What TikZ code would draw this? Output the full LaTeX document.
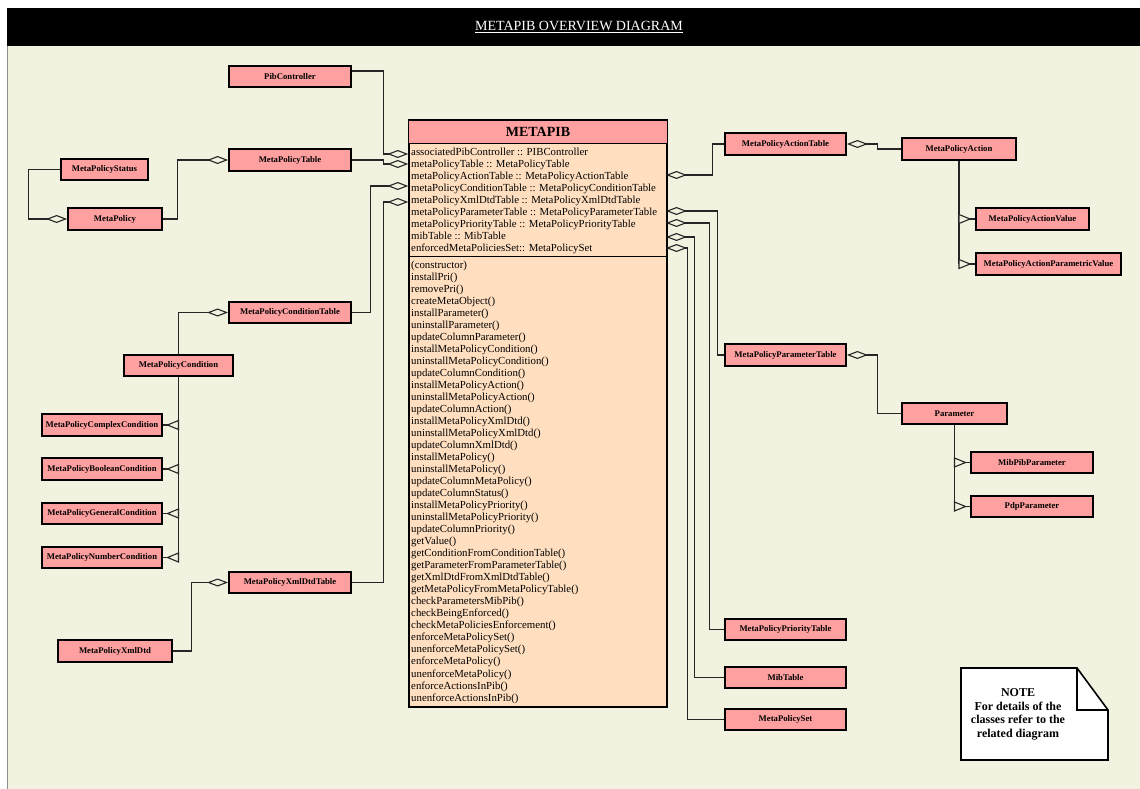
\documentclass[tikz,border=0pt]{standalone}
\usepackage{fontspec}
\setmainfont{Liberation Serif}
\usetikzlibrary{arrows.meta,calc}
\definecolor{bgc}{HTML}{F1F2DF}
\definecolor{pinkc}{HTML}{FFA0A0}
\definecolor{peachc}{HTML}{FFDFC0}
\newcommand\mtxtfont{\fontsize{10.8}{12}\selectfont}
\begin{document}
\begin{tikzpicture}[x=1pt,y=-1pt,
  cls/.style={draw=black,line width=1.8pt,fill=pinkc,inner sep=0pt,minimum height=21.5pt,minimum width=122pt,font=\bfseries\fontsize{8.7}{10}\selectfont},
  conn/.style={line width=1.1pt,draw=black!85},
  agg/.style={conn,-{Diamond[open,length=21pt,width=8pt]}},
  genR/.pic={\draw[conn,fill=bgc] (0,-4.5) -- (11,0) -- (0,4.5) -- cycle;},
  genL/.pic={\draw[conn,fill=bgc] (0,-4.5) -- (-11,0) -- (0,4.5) -- cycle;},
  mline/.style={anchor=base west,inner sep=0pt,font=\mtxtfont}
]
\useasboundingbox (0,0) rectangle (1140,789);
\fill[white] (0,0) rectangle (1140,789);
\fill[bgc] (7,46) rectangle (1140,789);
\draw[black!45,line width=0.8pt] (7,46) -- (7,789);
\fill[black] (7,8.5) rectangle (1140,46);
\node[text=white,font=\fontsize{14}{16}\selectfont] (title) at (579,27) {\underline{METAPIB OVERVIEW DIAGRAM}};

% ---------- central class ----------
\node[draw=black,line width=1.6pt,fill=peachc,minimum width=257.7pt,minimum height=585.5pt,inner sep=0pt,anchor=north west] (meta) at (408.3,120) {};
\fill[pinkc] (meta.north west) rectangle ($(meta.north east)+(0,23.5)$);
\draw[line width=1.2pt] ($(meta.north west)+(0,23.5)$) -- ($(meta.north east)+(0,23.5)$);
\draw[line width=1.2pt] ($(meta.north west)+(0,136.5)$) -- ($(meta.north east)+(0,136.5)$);
\draw[line width=1.6pt] (meta.north west) rectangle (meta.south east);
\node[font=\bfseries\fontsize{14}{16}\selectfont] (metat) at ($(meta.north)+(0,12.3)$) {METAPIB};

\foreach \t [count=\i] in {{associatedPibController :: PIBController},{metaPolicyTable :: MetaPolicyTable},{metaPolicyActionTable :: MetaPolicyActionTable},{metaPolicyConditionTable :: MetaPolicyConditionTable},{metaPolicyXmlDtdTable :: MetaPolicyXmlDtdTable},{metaPolicyParameterTable :: MetaPolicyParameterTable},{metaPolicyPriorityTable :: MetaPolicyPriorityTable},{mibTable :: MibTable},{enforcedMetaPoliciesSet:: MetaPolicySet}}
  \node[mline] (at\i) at (411,{155.7+11.95*(\i-1)}) {\t};

\foreach \t [count=\i] in {{(constructor)},{installPri()},{removePri()},{createMetaObject()},{installParameter()},{uninstallParameter()},{updateColumnParameter()},{installMetaPolicyCondition()},{uninstallMetaPolicyCondition()},{updateColumnCondition()},{installMetaPolicyAction()},{uninstallMetaPolicyAction()},{updateColumnAction()},{installMetaPolicyXmlDtd()},{uninstallMetaPolicyXmlDtd()},{updateColumnXmlDtd()},{installMetaPolicy()},{uninstallMetaPolicy()},{updateColumnMetaPolicy()},{updateColumnStatus()},{installMetaPolicyPriority()},{uninstallMetaPolicyPriority()},{updateColumnPriority()},{getValue()},{getConditionFromConditionTable()},{getParameterFromParameterTable()},{getXmlDtdFromXmlDtdTable()},{getMetaPolicyFromMetaPolicyTable()},{checkParametersMibPib()},{checkBeingEnforced()},{checkMetaPoliciesEnforcement()},{enforceMetaPolicySet()},{unenforceMetaPolicySet()},{enforceMetaPolicy()},{unenforceMetaPolicy()},{enforceActionsInPib()},{unenforceActionsInPib()}}
  \node[mline] (mt\i) at (411,{268+12.03*(\i-1)}) {\t};

% attachment points on the class box
\coordinate (a1) at (408.3,154);
\coordinate (a2) at (408.3,164);
\coordinate (a4) at (408.3,186);
\coordinate (a5) at (408.3,202);
\coordinate (a3) at (666,175);
\coordinate (a6) at (666,211);
\coordinate (a7) at (666,223);
\coordinate (a8) at (666,237);
\coordinate (a9) at (666,248);

% ---------- small classes ----------
\node[cls] (pibc) at (290,76.5) {PibController};
\node[cls] (mpt) at (290,160) {MetaPolicyTable};
\node[cls,minimum width=87pt] (mps) at (104.5,169.5) {MetaPolicyStatus};
\node[cls,minimum width=94pt] (mp) at (115,219) {MetaPolicy};
\node[cls] (mpct) at (290,312.5) {MetaPolicyConditionTable};
\node[cls,minimum width=109pt] (mpc) at (178.5,365.5) {MetaPolicyCondition};
\node[cls,minimum width=120pt] (cx) at (102,425) {MetaPolicyComplexCondition};
\node[cls,minimum width=120pt] (cb) at (102,469) {MetaPolicyBooleanCondition};
\node[cls,minimum width=120pt] (cg) at (102,513.5) {MetaPolicyGeneralCondition};
\node[cls,minimum width=120pt] (cn) at (102,557.5) {MetaPolicyNumberCondition};
\node[cls] (mpxt) at (290,582.5) {MetaPolicyXmlDtdTable};
\node[cls,minimum width=114pt] (mpx) at (115,651) {MetaPolicyXmlDtd};

\node[cls,minimum width=121pt] (mpat) at (785.5,144) {MetaPolicyActionTable};
\node[cls,minimum width=114pt] (mpa) at (959,149) {MetaPolicyAction};
\node[cls,minimum width=113pt] (mpav) at (1032.5,219) {MetaPolicyActionValue};
\node[cls,minimum width=145pt] (mpapv) at (1048.5,264) {MetaPolicyActionParametricValue};
\node[cls,minimum width=121pt] (mppt) at (785.5,355) {MetaPolicyParameterTable};
\node[cls,minimum width=105pt] (par) at (954.5,413.5) {Parameter};
\node[cls] (mibpib) at (1032,462.5) {MibPibParameter};
\node[cls] (pdp) at (1032,506.5) {PdpParameter};
\node[cls,minimum width=121pt] (mpprt) at (785.5,629.5) {MetaPolicyPriorityTable};
\node[cls,minimum width=121pt] (mib) at (785.5,677.5) {MibTable};
\node[cls,minimum width=121pt] (mpset) at (785.5,719.5) {MetaPolicySet};

% ---------- aggregations ----------
\draw[agg] ([yshift=5.5pt]pibc.east) -- ++(32,0) |- (a1);
\draw[agg] (mpt.east) -- ++(32,0) |- (a2);
\draw[agg] (mpct.east) -- ++(19,0) |- (a4);
\draw[agg] (mpxt.east) -- ++(32,0) |- (a5);
\draw[agg] (mpat.west) -- ++(-12,0) |- (a3);
\draw[agg] (mppt.west) -- ++(-7,0) |- (a6);
\draw[agg] (mpprt.west) -- ++(-15,0) |- (a7);
\draw[agg] (mib.west) -- ++(-30,0) |- (a8);
\draw[agg] (mpset.west) -- ++(-37,0) |- (a9);
\draw[agg] (mpa.west) -- ++(-24,0) |- (mpat.east);
\draw[agg] (par.west) -- ++(-24,0) |- (mppt.east);
\draw[agg] (mpc.north) |- (mpct.west);
\draw[agg] (mp.east) -- ++(15,0) |- (mpt.west);
\draw[agg] (mps.west) -- ++(-32,0) |- (mp.west);
\draw[agg] (mpx.east) -- ++(19,0) |- (mpxt.west);

% ---------- generalizations ----------
\draw[conn] (mpa.south) -- (mpa.south |- mpapv.west);
\foreach \c in {mpav,mpapv}{
  \draw[conn] (\c.west) -- (\c.west -| mpa.south);
  \pic at (\c.west -| mpa.south) {genR};
}
\draw[conn] (par.south) -- (par.south |- pdp.west);
\foreach \c in {mibpib,pdp}{
  \draw[conn] (\c.west) -- (\c.west -| par.south);
  \pic at (\c.west -| par.south) {genR};
}
\draw[conn] (mpc.south) -- (mpc.south |- cn.east);
\foreach \c in {cx,cb,cg,cn}{
  \draw[conn] (\c.east) -- (\c.east -| mpc.south);
  \pic at (\c.east -| mpc.south) {genL};
}

% ---------- note ----------
\draw[line width=1.6pt,fill=white] (961,668) -- (1077,668) -- (1108,710) -- (1108,760) -- (961,760) -- cycle;
\draw[line width=1.6pt] (1077,668) -- (1077,710) -- (1108,710);
\node[font=\bfseries\fontsize{12}{13.6}\selectfont,align=center,inner sep=0pt] (note) at (1018,714.5) {NOTE\\For details of the\\classes refer to the\\related diagram};
\end{tikzpicture}
\end{document}
